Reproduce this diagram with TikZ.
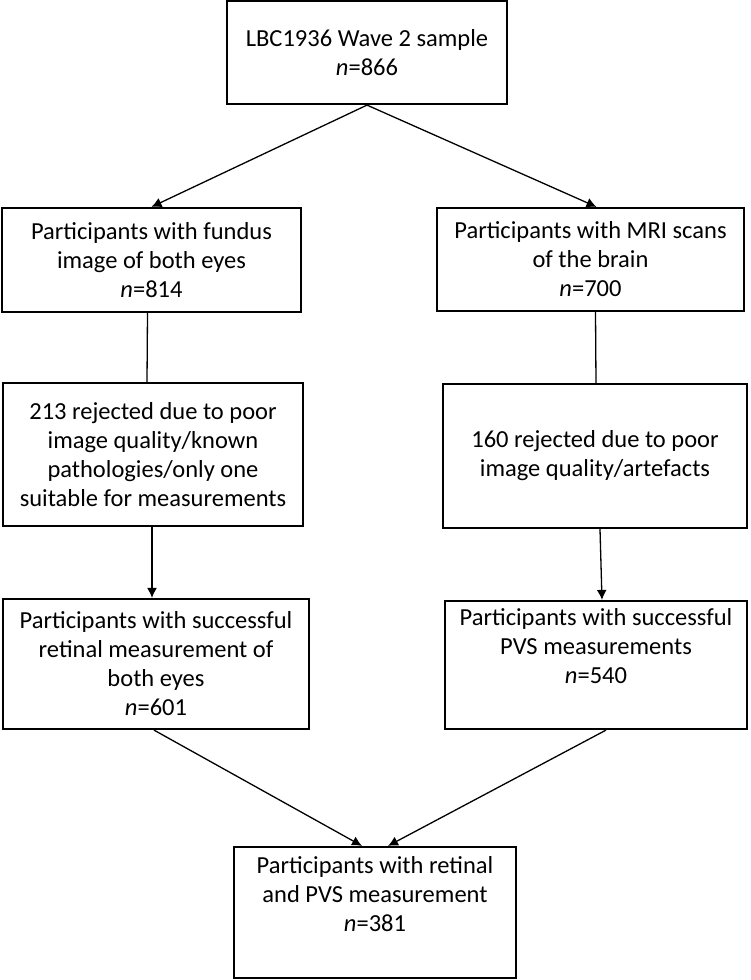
\documentclass[tikz,border=0pt]{standalone}
\usepackage{fontspec}
\setmainfont{Carlito}
\usepackage{tikz}
\usetikzlibrary{calc}
\usetikzlibrary{arrows.meta}
\usetikzlibrary{positioning}

\tikzset{box/.style={draw, line width=2.2pt, align=center, inner sep=0pt, font=\fontsize{24.5}{29}\selectfont},
  link/.style={line width=1.3pt},
  arr/.style={link, -{Latex[length=10pt, width=10pt]}}}

\begin{document}
\begin{tikzpicture}[x=1pt, y=-1pt]
\useasboundingbox (0,0) rectangle (750,980);
\node[box, minimum width=280, minimum height=103] (wave) at (367,52.5) {LBC1936 Wave 2 sample\\\textit{n}=866};
\node[box, minimum width=299, minimum height=104] (fundus) at (151.5,260) {Participants with fundus\\image of both eyes\\\textit{n}=814};
\node[box, minimum width=307, minimum height=103] (mri) at (590.5,259.5) {Participants with MRI scans\\of the brain\\\textit{n}=700};
\node[box, minimum width=300, minimum height=143] (rejret) at (153,454.5) {213 rejected due to poor\\image quality/known\\pathologies/only one\\suitable for measurements};
\node[box, minimum width=304, minimum height=144] (rejmri) at (595,456) {160 rejected due to poor\\image quality/artefacts};
\node[box, minimum width=306, minimum height=130] (retinal) at (156,664) {Participants with successful\\retinal measurement of\\both eyes\\\textit{n}=601};
\node[box, minimum width=302, minimum height=128] (pvs) at (596,665) {Participants with successful\\PVS measurements\\\textit{n}=540\\\strut};
\node[box, minimum width=282, minimum height=131] (both) at (375,912.5) {Participants with retinal\\and PVS measurement\\\textit{n}=381\\\strut};

\draw[arr] (wave.south) -- (fundus.north);
\draw[arr] (wave.south) -- ($(mri.north)+(6,0)$);
\draw[link] ($(fundus.south)+(-4,0)$) -- ($(rejret.north)+(-6,0)$);
\draw[link] ($(mri.south)+(5,0)$) -- ($(rejmri.north)+(1,0)$);
\draw[arr] ($(rejret.south)+(-1,0)$) -- ($(retinal.north)+(-4,0)$);
\draw[arr] ($(rejmri.south)+(5,0)$) -- ($(pvs.north)+(6,0)$);
\draw[arr] ($(retinal.south)+(-2,0)$) -- ($(both.north)+(-13,0)$);
\draw[arr] ($(pvs.south)+(10,0)$) -- ($(both.north)+(13,0)$);
\end{tikzpicture}
\end{document}
